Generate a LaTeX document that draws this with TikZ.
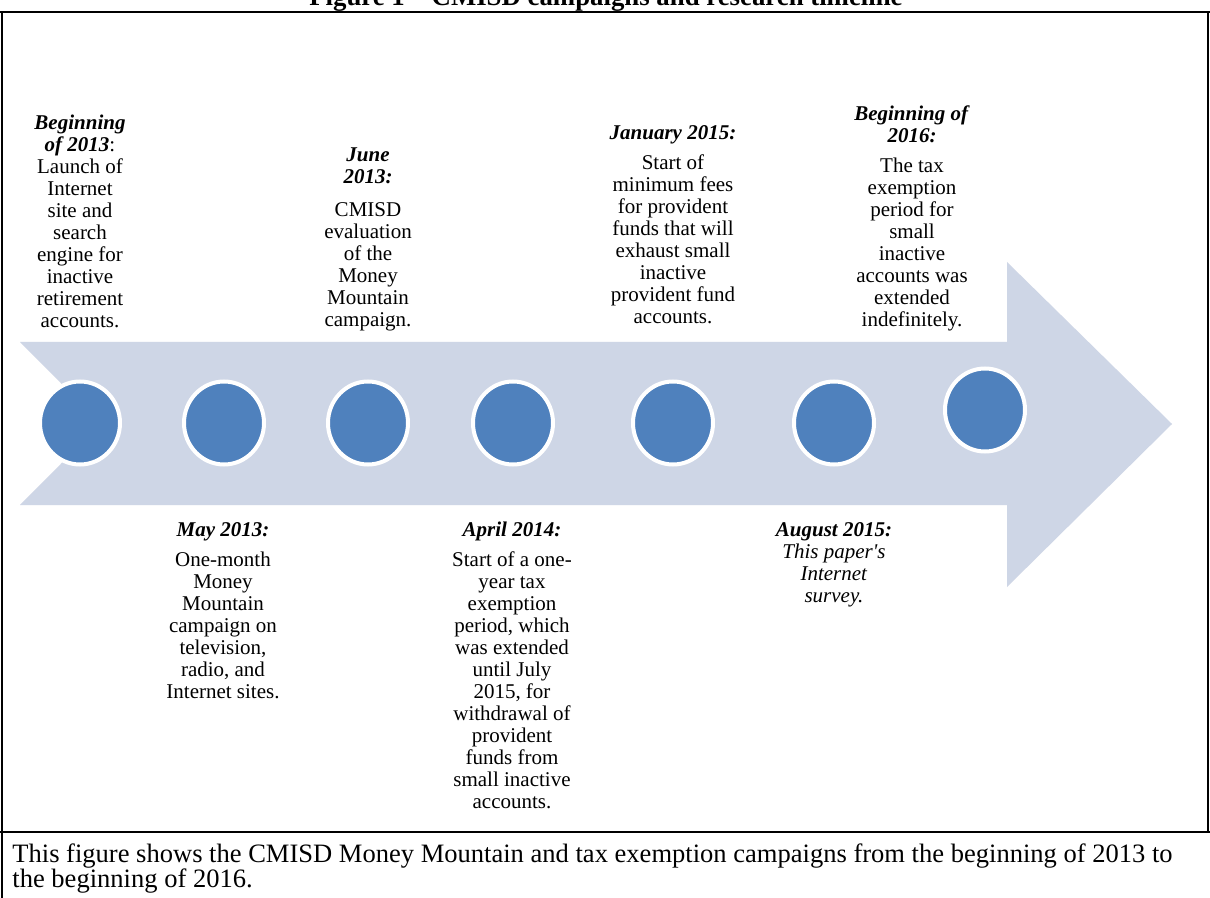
\documentclass[tikz,border=0pt]{standalone}
\usepackage{fontspec}
\setmainfont{Liberation Serif}
\newfontfamily\rawserif{Liberation Serif}
\usetikzlibrary{shapes.geometric}
\definecolor{bandcol}{RGB}{206,214,230}
\definecolor{dotcol}{RGB}{79,129,189}
\begin{document}
\begin{tikzpicture}[x=0.5pt,y=-0.5pt,
  evt/.style={align=center, inner sep=0pt, font=\fontsize{10.5}{11}\selectfont, anchor=north},
  dot/.style={ellipse, fill=dotcol, draw=white, line width=2pt, minimum width=40pt, minimum height=41.5pt, inner sep=0pt},
  frameline/.style={line width=1.2pt, black}]
\useasboundingbox (0,0) rectangle (1210,898);
\fill[white] (0,0) rectangle (1210,898);
% arrow
\fill[bandcol] (20,342) -- (1007,342) -- (1007,262) -- (1172,424) -- (1007,587) -- (1007,505) -- (20,505) -- (101,423.5) -- cycle;
% dots
\node[dot] (c1) at (80,423) {};
\node[dot] (c2) at (224,423) {};
\node[dot] (c3) at (368,423) {};
\node[dot] (c4) at (513,423) {};
\node[dot] (c5) at (673,423) {};
\node[dot] (c6) at (834,423) {};
\node[dot] (c7) at (985,410) {};
% top texts
\node[evt] (t1) at (80,115) {\textbf{\textit{Beginning}}\\\textbf{\textit{of 2013}}:\\Launch of\\Internet\\site and\\search\\engine for\\inactive\\retirement\\accounts.};
\node[evt] (t3) at (368,147) {\textbf{\textit{June}}\\\textbf{\textit{2013:}}\\[5.5pt]CMISD\\evaluation\\of the\\Money\\Mountain\\campaign.};
\node[evt] (t5) at (673,125) {\textbf{\textit{January 2015:}}\\[4pt]Start of\\minimum fees\\for provident\\funds that will\\exhaust small\\inactive\\provident fund\\accounts.};
\node[evt] (t7) at (912,105) {\textbf{\textit{Beginning of}}\\\textbf{\textit{2016:}}\\[4pt]The tax\\exemption\\period for\\small\\inactive\\accounts was\\extended\\indefinitely.};
% bottom texts
\node[evt] (t2) at (223,522) {\textbf{\textit{May 2013:}}\\[4pt]One-month\\Money\\Mountain\\campaign on\\television,\\radio, and\\Internet sites.};
\node[evt] (t4) at (512,522) {\textbf{\textit{April 2014:}}\\[4pt]Start of a one-\\year tax\\exemption\\period, which\\was extended\\until July\\2015, for\\withdrawal of\\provident\\funds from\\small inactive\\accounts.};
\node[evt] (t6) at (834,522) {\textbf{\textit{August 2015:}}\\\textit{This paper{\rawserif\itshape '}s}\\\textit{Internet}\\\textit{survey.}};
% title and caption
\node[anchor=base, inner sep=0pt, font=\bfseries\fontsize{13.4}{14}\selectfont] (title) at (606,6) {Figure 1 – CMISD campaigns and research timeline};
\node[anchor=north west, inner sep=0pt, align=left, font=\fontsize{13.27}{12.5}\selectfont] (cap) at (12,843) {This figure shows the CMISD Money Mountain and tax exemption campaigns from the beginning of 2013 to\\the beginning of 2016.};
% frame
\draw[frameline] (0,12) -- (1210,12);
\draw[frameline] (2,12) -- (2,898);
\draw[frameline] (1208,12) -- (1208,832);
\draw[frameline] (0,832) -- (1210,832);
\end{tikzpicture}
\end{document}
